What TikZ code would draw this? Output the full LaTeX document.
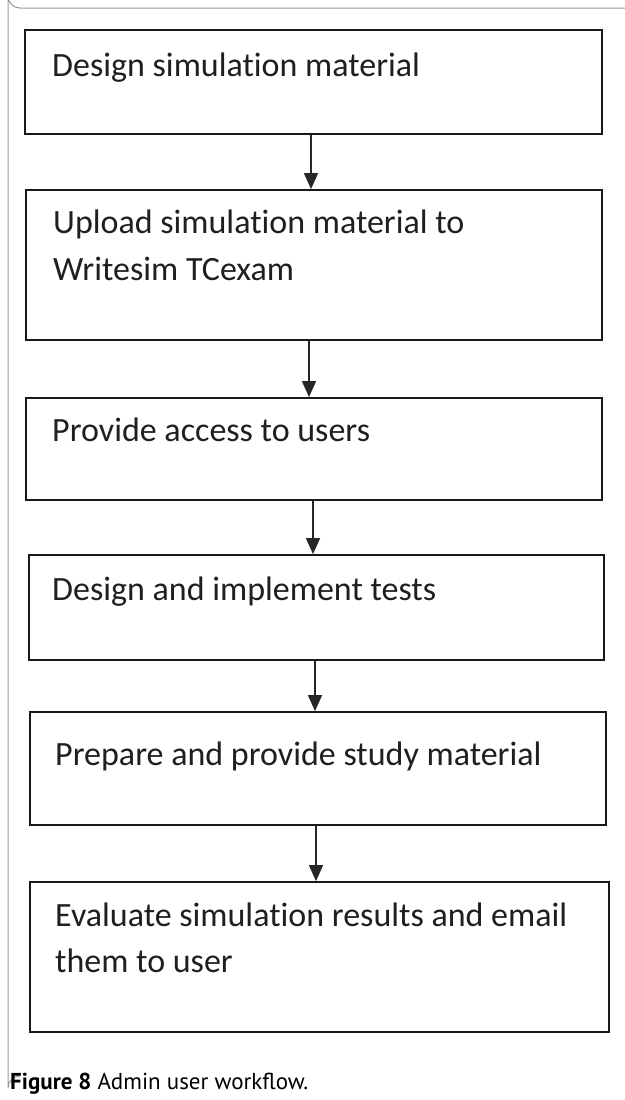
\documentclass[tikz,border=0pt]{standalone}
\usepackage{fontspec}
\setmainfont{Carlito}[Ligatures=NoCommon]
\newfontfamily\capfont{PT Sans}
\usetikzlibrary{arrows.meta}
\tikzset{
  stepbox/.style={draw=black!90, line width=1.8pt, rectangle, inner sep=0pt},
  steptext/.style={anchor=base west, inner sep=0pt, font=\fontsize{34}{34}\selectfont, text=black!88},
  flow/.style={draw=black!85, line width=1.3pt, -{Triangle[width=14pt,length=16pt]}},
  frame/.style={draw=black!40, line width=1pt}
}
\newcommand{\stepat}[5]{% name, left, top, right, bottom
  \node[stepbox, minimum width={(#4-#2)*1pt}, minimum height={(#5-#3)*1pt}] (#1) at ({(#2+#4)/2},{(#3+#5)/2}) {};}
\begin{document}
\begin{tikzpicture}[x=1pt, y=-1pt]
\useasboundingbox (0,0) rectangle (624,1100);
\fill[white] (0,0) rectangle (624,1100);

% page frame
\draw[frame] (630,8) -- (20,8) arc[start angle=90, end angle=180, radius=12] -- (8,1088) arc[start angle=180, end angle=270, radius=12];

% process boxes
\stepat{b1}{25}{30}{602}{134}
\stepat{b2}{26}{190}{602}{340}
\stepat{b3}{26}{398}{602}{500}
\stepat{b4}{29}{555}{604}{660}
\stepat{b5}{30}{712}{606}{825}
\stepat{b6}{30}{882}{609}{1032}

% box texts
\node[steptext] (t1) at (52,76) {Design simulation material};
\node[steptext] (t2a) at (53,233) {Upload simulation material to};
\node[steptext] (t2b) at (53,280) {Writesim TCexam};
\node[steptext] (t3) at (52,441) {Provide access to users};
\node[steptext] (t4) at (52,600) {Design and implement tests};
\node[steptext] (t5) at (55,765) {Prepare and provide study material};
\node[steptext] (t6a) at (55,926) {Evaluate simulation results and email};
\node[steptext] (t6b) at (55,972) {them to user};

% connectors
\draw[flow] (b1.south -| 311,0) -- (b2.north -| 311,0);
\draw[flow] (b2.south -| 309,0) -- (b3.north -| 309,0);
\draw[flow] (b3.south -| 313,0) -- (b4.north -| 313,0);
\draw[flow] (b4.south -| 315,0) -- (b5.north -| 315,0);
\draw[flow] (b5.south -| 316,0) -- (b6.north -| 316,0);

% caption
\node[anchor=base west, inner sep=0pt, font=\capfont\fontsize{23}{23}\selectfont] (cap) at (10,1089)
  {\textbf{Figure 8} Admin user workflow.};
\end{tikzpicture}
\end{document}
